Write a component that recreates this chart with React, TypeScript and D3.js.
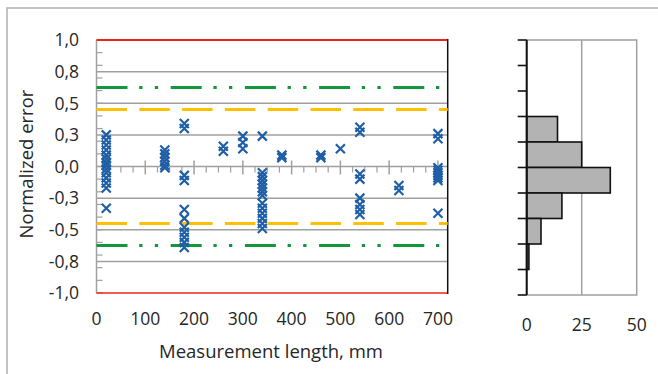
import { useEffect, useRef } from 'react'
import * as d3 from 'd3'

// scatter: measurement length (mm) and the normalized errors measured at it
const lengths = [20, 140, 180, 260, 300, 340, 380, 460, 500, 540, 620, 700]
const errors: number[][] = [
  [0.25, 0.21, 0.17, 0.13, 0.09, 0.06, 0.03, 0.01, -0.02, -0.05, -0.09, -0.13, -0.17, -0.33],
  [0.13, 0.1, 0.07, 0.04, 0.01, -0.01],
  [0.34, 0.3, -0.07, -0.11, -0.34, -0.41, -0.48, -0.52, -0.56, -0.6, -0.64],
  [0.16, 0.12],
  [0.24, 0.19, 0.14],
  [0.24, -0.05, -0.08, -0.11, -0.14, -0.17, -0.2, -0.23, -0.29, -0.33, -0.37, -0.41, -0.45, -0.49],
  [0.09, 0.07],
  [0.09, 0.07],
  [0.14],
  [0.31, 0.27, -0.06, -0.1, -0.25, -0.3, -0.34, -0.38],
  [-0.15, -0.19],
  [0.26, 0.22, -0.01, -0.03, -0.05, -0.07, -0.09, -0.11, -0.37],
]

// limits
const redLimit = 1.0
const greenLimit = 0.625
const yellowLimit = 0.45

// axis ticks
const xTicks = [0, 100, 200, 300, 400, 500, 600, 700]
const yTicks = [1, 0.75, 0.5, 0.25, 0, -0.25, -0.5, -0.75, -1]
const yTickLabels = ['1,0', '0,8', '0,5', '0,3', '0,0', '-0,3', '-0,5', '-0,8', '-1,0']
const gridValues = [0.75, 0.5, 0.25, -0.25, -0.5, -0.75]

// histogram of normalized error, bins of 0.2 from top (1.0) to bottom (-1.0)
const binEdges = [1, 0.8, 0.6, 0.4, 0.2, 0, -0.2, -0.4, -0.6, -0.8, -1]
const binCounts = [0, 0, 0, 14, 25, 38, 16, 6.5, 1, 0]
const histTicks = [0, 25, 50]

const FONT = "'Open Sans', sans-serif"
const TEXT = '#262626'

export default function App() {
  const ref = useRef<SVGSVGElement>(null)

  useEffect(() => {
    if (!ref.current) return
    const svg = d3.select(ref.current)
    svg.selectAll('*').remove()

    // outer frame
    svg.append('rect')
      .attr('x', 7).attr('y', 8).attr('width', 700).attr('height', 420)
      .attr('fill', 'none').attr('stroke', '#b0b0b0').attr('stroke-width', 1.5)

    const x = d3.scaleLinear().domain([0, 720]).range([96.5, 447.7])
    const y = d3.scaleLinear().domain([-1, 1]).range([293, 40])

    // gridlines
    svg.selectAll('.grid').data(gridValues).enter().append('line')
      .attr('x1', x(0)).attr('x2', x(720))
      .attr('y1', d => y(d)).attr('y2', d => y(d))
      .attr('stroke', '#a0a0a0').attr('stroke-width', 1.5)

    // y axis
    svg.append('line')
      .attr('x1', x(0)).attr('x2', x(0)).attr('y1', y(1)).attr('y2', y(-1))
      .attr('stroke', '#a0a0a0').attr('stroke-width', 1.5)
    svg.selectAll('.yminor').data(d3.range(-10, 11).map(d => d / 10)).enter().append('line')
      .attr('x1', x(0)).attr('x2', x(0) + 6)
      .attr('y1', d => y(d)).attr('y2', d => y(d))
      .attr('stroke', '#a0a0a0').attr('stroke-width', 1.2)

    // x axis at zero with ticks
    svg.append('line')
      .attr('x1', x(0)).attr('x2', x(720)).attr('y1', y(0)).attr('y2', y(0))
      .attr('stroke', '#a0a0a0').attr('stroke-width', 1.5)
    svg.selectAll('.xminor').data(d3.range(25, 720, 25).filter(d => d % 100 !== 0)).enter().append('line')
      .attr('x1', d => x(d)).attr('x2', d => x(d))
      .attr('y1', y(0)).attr('y2', y(0) + 6)
      .attr('stroke', '#a0a0a0').attr('stroke-width', 1.2)
    svg.selectAll('.xmajor').data(xTicks.slice(1)).enter().append('line')
      .attr('x1', d => x(d)).attr('x2', d => x(d))
      .attr('y1', y(0) - 6).attr('y2', y(0) + 8)
      .attr('stroke', '#a0a0a0').attr('stroke-width', 1.5)

    // red limits
    svg.append('line')
      .attr('x1', x(0)).attr('x2', x(720)).attr('y1', y(redLimit)).attr('y2', y(redLimit))
      .attr('stroke', '#f02020').attr('stroke-width', 2)
    svg.append('line')
      .attr('x1', x(0)).attr('x2', x(720)).attr('y1', y(-redLimit)).attr('y2', y(-redLimit))
      .attr('stroke', '#f02020').attr('stroke-width', 1.5)

    // right border
    svg.append('line')
      .attr('x1', x(720)).attr('x2', x(720)).attr('y1', y(1) - 1).attr('y2', y(-1) + 1)
      .attr('stroke', '#111').attr('stroke-width', 1.5)

    // green dash-dot-dot limits
    ;[greenLimit, -greenLimit].forEach(v => {
      svg.append('line')
        .attr('x1', x(0)).attr('x2', x(720)).attr('y1', y(v)).attr('y2', y(v))
        .attr('stroke', '#12973c').attr('stroke-width', 3)
        .attr('stroke-dasharray', '31 11.7 3.3 12.3 3.3 12.6')
    })

    // yellow dashed limits
    ;[yellowLimit, -yellowLimit].forEach(v => {
      svg.append('line')
        .attr('x1', x(0)).attr('x2', x(720)).attr('y1', y(v)).attr('y2', y(v))
        .attr('stroke', '#ffc000').attr('stroke-width', 3)
        .attr('stroke-dasharray', '30.5 12.3')
    })

    // tick labels
    svg.selectAll('.ylab').data(yTicks).enter().append('text')
      .attr('x', 79).attr('y', d => y(d) + 6.3)
      .attr('text-anchor', 'end')
      .attr('font-family', FONT).attr('font-size', 17.5).attr('fill', TEXT)
      .text((_, i) => yTickLabels[i])
    svg.selectAll('.xlab').data(xTicks).enter().append('text')
      .attr('x', d => x(d)).attr('y', 324.5)
      .attr('text-anchor', 'middle')
      .attr('font-family', FONT).attr('font-size', 17.5).attr('fill', TEXT)
      .text(d => d)

    // axis titles
    svg.append('text')
      .attr('x', 271).attr('y', 358)
      .attr('text-anchor', 'middle')
      .attr('font-family', FONT).attr('font-size', 18.5).attr('fill', TEXT)
      .text('Measurement length, mm')
    svg.append('text')
      .attr('transform', 'translate(33,164) rotate(-90)')
      .attr('text-anchor', 'middle')
      .attr('font-family', FONT).attr('font-size', 18.5).attr('fill', TEXT)
      .text('Normalized error')

    // scatter markers
    const points = lengths.flatMap((len, i) => errors[i].map(e => ({ len, e })))
    svg.selectAll('.pt').data(points).enter().append('path')
      .attr('d', 'M-4.5,-4.5L4.5,4.5M-4.5,4.5L4.5,-4.5')
      .attr('transform', d => `translate(${x(d.len)},${y(d.e)})`)
      .attr('stroke', '#1f5fa6').attr('stroke-width', 2.2).attr('fill', 'none')

    // histogram
    const hx = d3.scaleLinear().domain([0, 50]).range([526.7, 636.7])
    const hy = d3.scaleLinear().domain([-1, 1]).range([295, 40])

    svg.append('rect')
      .attr('x', hx(0)).attr('y', hy(1))
      .attr('width', hx(50) - hx(0)).attr('height', hy(-1) - hy(1))
      .attr('fill', 'none').attr('stroke', '#a0a0a0').attr('stroke-width', 1.5)
    svg.append('line')
      .attr('x1', hx(25)).attr('x2', hx(25)).attr('y1', hy(1)).attr('y2', hy(-1))
      .attr('stroke', '#a0a0a0').attr('stroke-width', 1.5)

    svg.selectAll('.bar').data(binCounts.map((c, i) => ({ c, top: binEdges[i], bottom: binEdges[i + 1] })).filter(d => d.c > 0))
      .enter().append('rect')
      .attr('x', hx(0))
      .attr('y', d => hy(d.top))
      .attr('width', d => hx(d.c) - hx(0))
      .attr('height', d => hy(d.bottom) - hy(d.top))
      .attr('fill', '#b3b3b3').attr('stroke', '#111').attr('stroke-width', 1.6)

    svg.append('line')
      .attr('x1', hx(0)).attr('x2', hx(0)).attr('y1', hy(1)).attr('y2', hy(-1))
      .attr('stroke', '#111').attr('stroke-width', 2)
    svg.selectAll('.htick').data(binEdges).enter().append('line')
      .attr('x1', hx(0) - 9).attr('x2', hx(0))
      .attr('y1', d => hy(d)).attr('y2', d => hy(d))
      .attr('stroke', '#111').attr('stroke-width', 1.6)

    svg.selectAll('.hlab').data(histTicks).enter().append('text')
      .attr('x', d => hx(d)).attr('y', 330.5)
      .attr('text-anchor', 'middle')
      .attr('font-family', FONT).attr('font-size', 17.5).attr('fill', TEXT)
      .text(d => d)
  }, [])

  return (
    <svg
      ref={ref}
      width={658}
      height={374}
      style={{ position: 'absolute', left: 0, top: 0, display: 'block', background: '#fff' }}
    />
  )
}
